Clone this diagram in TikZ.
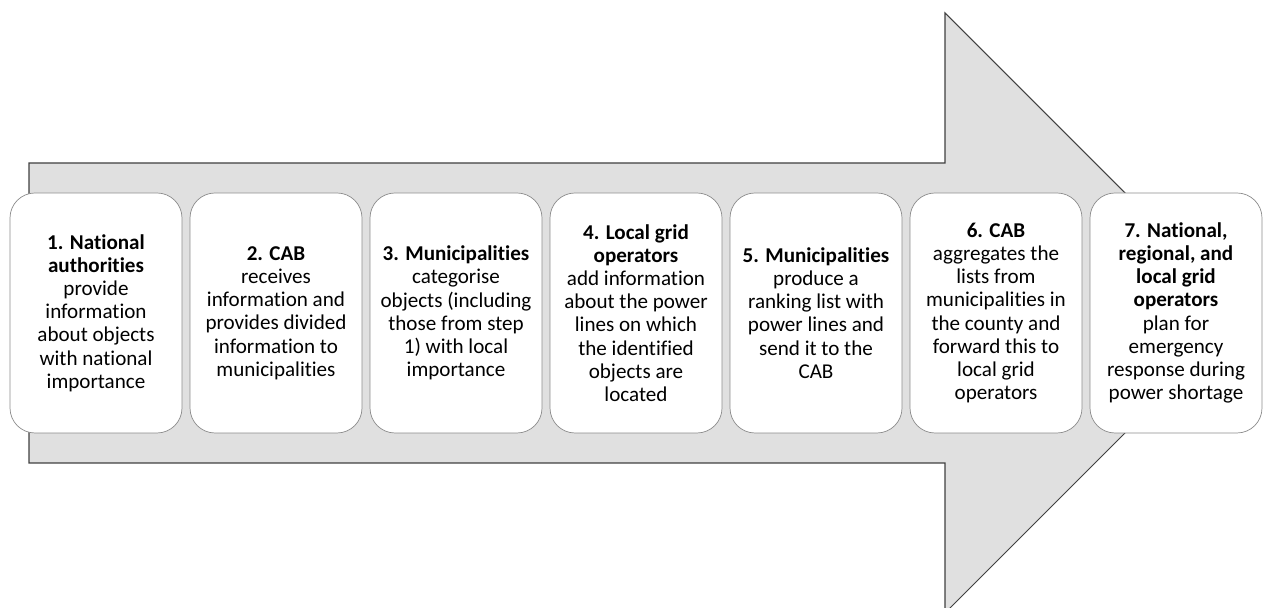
\documentclass[tikz,border=0pt]{standalone}
\usepackage{fontspec}
\setmainfont{Carlito}[Ligatures=NoCommon]

\begin{document}
\begin{tikzpicture}

\tikzset{mybox/.style={rectangle,rounded corners=0.5cm,minimum width=3.44cm,minimum height=4.8cm,inner sep=2pt,draw=gray!90,fill=white,text=black,align=center,font=\fontsize{12}{13.2}\selectfont},}
\tikzset{myarrow/.style={fill=gray!24,draw=black!75,line width=0.6pt,line join=miter},}

  \useasboundingbox (0,0) rectangle (25.28,12.16);

  % big arrow behind the steps
  \draw[myarrow] (0.58,2.9) -- (0.58,8.9) -- (18.9,8.9) -- (18.9,11.9)
        -- (24.9,5.9) -- (18.9,-0.1) -- (18.9,2.9) -- cycle;

  \draw (1.92,5.9) node[mybox](s1) {\textbf{1. National}\\\textbf{authorities}\\provide\\information\\about objects\\with national\\importance};
  \draw (5.52,5.9) node[mybox](s2) {\textbf{2. CAB}\\receives\\information and\\provides divided\\information to\\municipalities};
  \draw (9.12,5.9) node[mybox](s3) {\textbf{3. Municipalities}\\categorise\\objects (including\\those from step\\1) with local\\importance};
  \draw (12.72,5.9) node[mybox](s4) {\textbf{4. Local grid}\\\textbf{operators}\\add information\\about the power\\lines on which\\the identified\\objects are\\located};
  \draw (16.32,5.9) node[mybox](s5) {\textbf{5. Municipalities}\\produce a\\ranking list with\\power lines and\\send it to the\\CAB};
  \draw (19.92,5.9) node[mybox](s6) {\textbf{6. CAB}\\aggregates the\\lists from\\municipalities in\\the county and\\forward this to\\local grid\\operators};
  \draw (23.52,5.9) node[mybox](s7) {\textbf{7. National,}\\\textbf{regional, and}\\\textbf{local grid}\\\textbf{operators}\\plan for\\emergency\\response during\\power shortage};

\end{tikzpicture}
\end{document}
